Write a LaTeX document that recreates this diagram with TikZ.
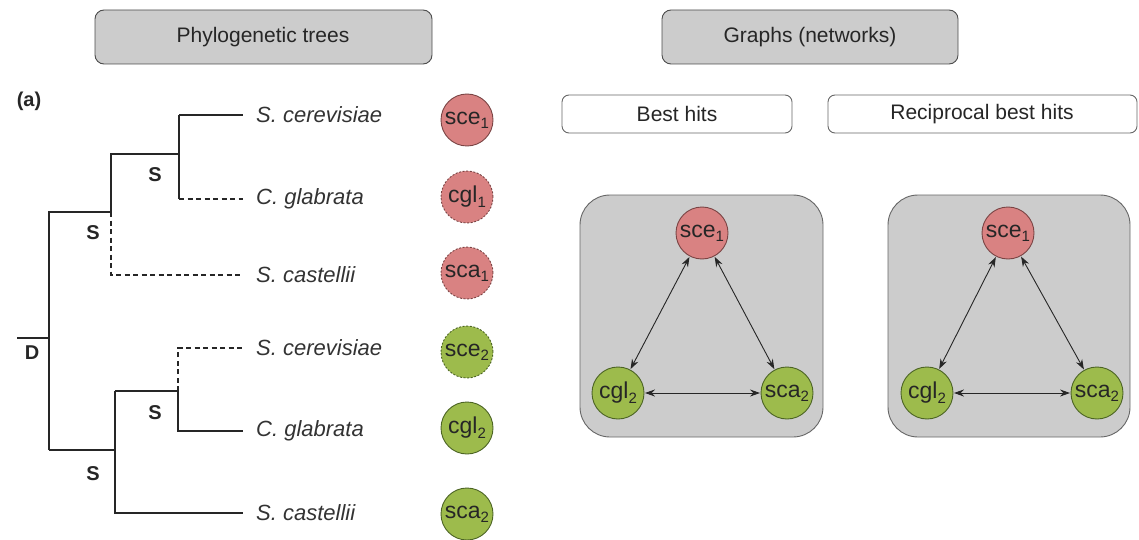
\documentclass[tikz,border=0pt]{standalone}
\usepackage{fontspec}
\setmainfont{Liberation Sans}
\usetikzlibrary{arrows.meta}
\definecolor{redf}{HTML}{D98282}
\definecolor{redd}{HTML}{7A4444}
\definecolor{grnf}{HTML}{9DBB4C}
\definecolor{grnd}{HTML}{4C6424}
\definecolor{panelg}{HTML}{CCCCCC}
\newcommand{\gsub}[1]{\raisebox{-0.35ex}{\fontsize{15}{16}\selectfont #1}}
\tikzset{
  hdr/.style={draw=black!70, fill=panelg, rounded corners=9pt, line width=0.9pt},
  subhdr/.style={draw=black!60, fill=white, rounded corners=7pt, line width=0.9pt},
  panel/.style={draw=black!60, fill=panelg, rounded corners=30pt, line width=0.9pt},
  htxt/.style={font=\fontsize{21}{24}\selectfont, text=black!85},
  sp/.style={font=\fontsize{22}{25}\selectfont\itshape, text=black!80, anchor=west, inner sep=0pt},
  evt/.style={font=\fontsize{20}{22}\selectfont\bfseries, text=black!85},
  branch/.style={line width=1.6pt, black!85, line join=miter},
  lost/.style={branch, dash pattern=on 5pt off 3.5pt},
  gene/.style={circle, minimum size=52pt, inner sep=0pt, line width=0.9pt, font=\fontsize{23}{24}\selectfont},
  redg/.style={gene, fill=redf, draw=redd, text=black!85},
  grng/.style={gene, fill=grnf, draw=grnd, text=black!85},
  dsh/.style={dash pattern=on 2pt off 1.6pt},
  hit/.style={line width=0.9pt, black!85, {Stealth[length=10pt,width=7pt]}-{Stealth[length=10pt,width=7pt]}, shorten <=0.5pt, shorten >=0.5pt},
}
\begin{document}
\begin{tikzpicture}[x=1pt,y=-1pt]
\useasboundingbox (0,0) rectangle (1139,540);
% headers
\draw[hdr] (95,10) rectangle (432,64);
\node[htxt] (hphylo) at (263,37) {Phylogenetic trees};
\draw[hdr] (662,10) rectangle (958,64);
\node[htxt] (hgraph) at (810,37) {Graphs (networks)};
\draw[subhdr] (562,95) rectangle (792,133);
\node[htxt] (hbest) at (677,114) {Best hits};
\draw[subhdr] (828,95) rectangle (1137,133);
\node[htxt] (hrbh) at (982,114) {Reciprocal best hits};
\node[evt] (lbla) at (29,101) {(a)};
% tree coordinates
\coordinate (r1) at (49,212);
\coordinate (r2) at (49,450);
\coordinate (rstub) at (17,338);
\coordinate (rmid) at (49,338);
\coordinate (u1) at (111,212);
\coordinate (u1t) at (111,154);
\coordinate (u1b) at (111,275);
\coordinate (u2t) at (179,115);
\coordinate (u2m) at (179,154);
\coordinate (u2b) at (179,199);
\coordinate (d1) at (115,450);
\coordinate (d1t) at (115,391);
\coordinate (d1b) at (115,513);
\coordinate (d2t) at (178,348);
\coordinate (d2m) at (178,391);
\coordinate (d2b) at (178,431);
% species labels
\node[sp] (s1) at (256,115) {S. cerevisiae};
\node[sp] (s2) at (256,199) {C. glabrata};
\node[sp] (s3) at (256,275) {S. castellii};
\node[sp] (s4) at (256,348) {S. cerevisiae};
\node[sp] (s5) at (256,431) {C. glabrata};
\node[sp] (s6) at (256,513) {S. castellii};
% branches
\draw[branch] (rstub) -- (rmid);
\draw[branch] (r2) -- (r1) -- (u1) -- (u1t) -- (u2m);
\draw[lost] (u1) -- (u1b) -- ([xshift=-13pt]s3.west);
\draw[branch] (u2t) -- (u2b);
\draw[branch] (u2t) -- ([xshift=-13pt]s1.west);
\draw[lost] (u2b) -- ([xshift=-13pt]s2.west);
\draw[branch] (r2) -- (d1);
\draw[branch] (d1t) -- (d1b) -- ([xshift=-13pt]s6.west);
\draw[branch] (d1t) -- (d2m) -- (d2b) -- ([xshift=-13pt]s5.west);
\draw[lost] (d2m) -- (d2t) -- ([xshift=-13pt]s4.west);
% event labels
\node[evt] (e1) at (155,175) {S};
\node[evt] (e2) at (93,233) {S};
\node[evt] (e3) at (155,413) {S};
\node[evt] (e4) at (93,474) {S};
\node[evt] (e5) at (32,353) {D};
% gene circles
\node[redg] (g1) at (467,120) {sce\gsub{1}};
\node[redg, dsh] (g2) at (467,197) {cgl\gsub{1}};
\node[redg, dsh] (g3) at (467,273) {sca\gsub{1}};
\node[grng, dsh] (g4) at (467,352) {sce\gsub{2}};
\node[grng] (g5) at (467,428) {cgl\gsub{2}};
\node[grng] (g6) at (467,514) {sca\gsub{2}};
% panels
\draw[panel] (580,195) rectangle (823,437);
\draw[panel] (888,195) rectangle (1130,437);
\node[redg] (a1) at (702,233) {sce\gsub{1}};
\node[grng] (a2) at (618,393) {cgl\gsub{2}};
\node[grng] (a3) at (787,393) {sca\gsub{2}};
\draw[hit] (a1) -- (a2);
\draw[hit] (a1) -- (a3);
\draw[hit] (a2) -- (a3);
\node[redg] (b1) at (1008,233) {sce\gsub{1}};
\node[grng] (b2) at (927,393) {cgl\gsub{2}};
\node[grng] (b3) at (1097,393) {sca\gsub{2}};
\draw[hit] (b1) -- (b2);
\draw[hit] (b1) -- (b3);
\draw[hit] (b2) -- (b3);
\end{tikzpicture}
\end{document}
